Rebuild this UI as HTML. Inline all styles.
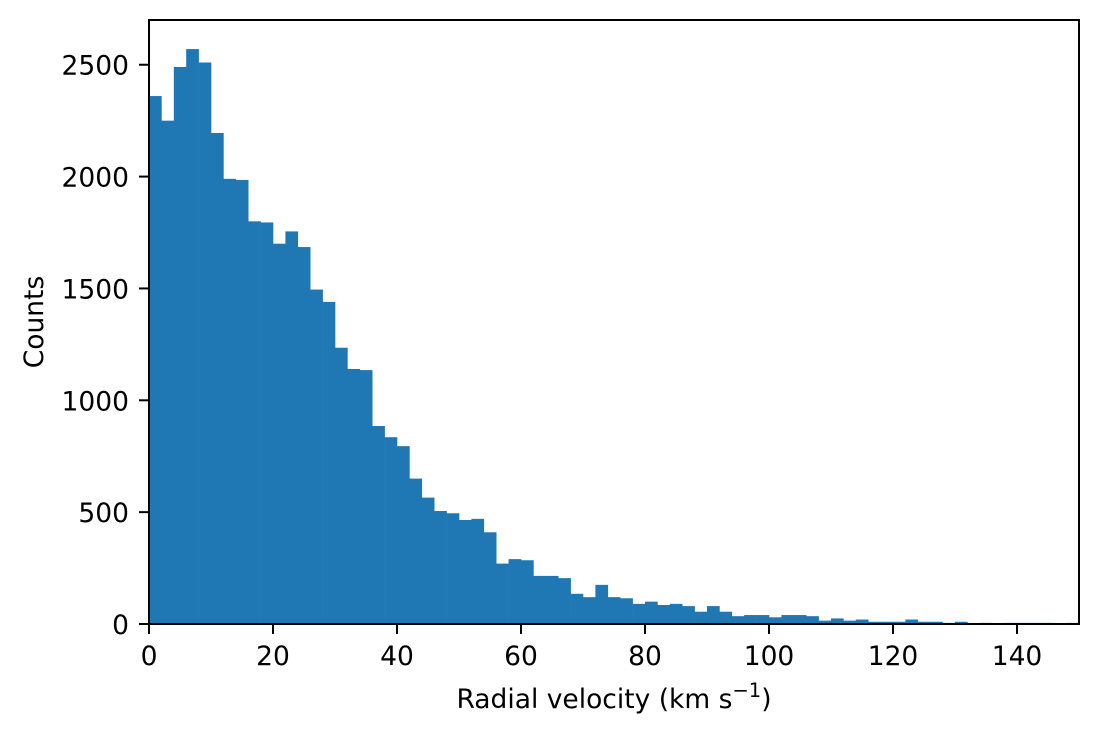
<!DOCTYPE html>
<html><head><meta charset="utf-8"><style>
body{margin:0;background:#fff;}
svg text{font-family:"DejaVu Sans","Liberation Sans",sans-serif;font-size:26.5px;fill:#000;}
</style></head><body>
<svg id="chart" width="1099" height="738" xmlns="http://www.w3.org/2000/svg">
<g id="bars"></g>
<g id="axes"></g>
</svg>
<script>
const binStarts = [0,2,4,6,8,10,12,14,16,18,20,22,24,26,28,30,32,34,36,38,40,42,44,46,48,50,52,54,56,58,60,62,64,66,68,70,72,74,76,78,80,82,84,86,88,90,92,94,96,98,100,102,104,106,108,110,112,114,116,118,120,122,124,126,128,130,132,134,136,138,140,142,144,146,148];
const counts = [2360,2250,2490,2570,2510,2195,1990,1985,1800,1795,1700,1755,1685,1495,1440,1235,1140,1135,885,835,795,650,565,505,495,465,470,410,270,290,285,215,215,205,135,120,175,120,115,90,100,85,90,80,55,80,55,35,40,40,30,40,40,35,15,25,15,20,10,10,10,20,10,10,5,10,0,5,0,5,5,5,5,0,5];
const binWidth = 2;
const xTicks = [0,20,40,60,80,100,120,140];
const yTicks = [0,500,1000,1500,2000,2500];

const L=149, R=1079, T=20, B=624;
const xMax=150, yMax=2700;
const xs = v => L + (v/xMax)*(R-L);
const ys = v => B - (v/yMax)*(B-T);
const NS="http://www.w3.org/2000/svg";
function mk(tag, attrs, parent){const e=document.createElementNS(NS,tag);for(const k in attrs)e.setAttribute(k,attrs[k]);parent.appendChild(e);return e;}

const bars=document.getElementById('bars');
counts.forEach((c,i)=>{
  const x0=xs(binStarts[i]), x1=xs(binStarts[i]+binWidth);
  const r=mk('rect',{x:x0,y:ys(c),width:x1-x0+0.3,height:B-ys(c),fill:'#1f77b4'},bars);
  
  
});

const axes=document.getElementById('axes');
const frame=mk('rect',{x:L,y:T,width:R-L,height:B-T,fill:'none',stroke:'#000','stroke-width':2},axes);


xTicks.forEach(t=>{
  const x=xs(t);
  mk('line',{x1:x,x2:x,y1:B,y2:B+10,stroke:'#000','stroke-width':2},axes);
  const tx=mk('text',{x:x,y:665,'text-anchor':'middle'},axes);
  tx.textContent=t;
  
  
});
yTicks.forEach(t=>{
  const y=ys(t);
  mk('line',{x1:L-10,x2:L,y1:y,y2:y,stroke:'#000','stroke-width':2},axes);
  const tx=mk('text',{x:129,y:y+10,'text-anchor':'end'},axes);
  tx.textContent=t;
  
  
});
const xl=mk('text',{x:(L+R)/2,y:708,'text-anchor':'middle','font-size':'27.5'},axes);
xl.innerHTML='Radial velocity (km s<tspan dy="-11" font-size="19.5">−1</tspan><tspan dy="11">)</tspan>';


const yl=mk('text',{x:0,y:0,'text-anchor':'middle','font-size':'27.5',transform:'translate(43,'+322+') rotate(-90)'},axes);
yl.textContent='Counts';


</script>
</body></html>
